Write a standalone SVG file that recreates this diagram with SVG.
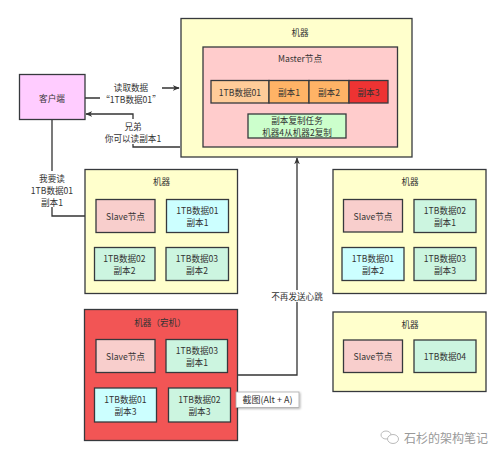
<svg xmlns="http://www.w3.org/2000/svg" width="500" height="456" viewBox="0 0 500 456">
<defs>
<style>
.b{stroke:#36393d;stroke-width:1.3}
.m{fill:#ffffcc}
.sl{fill:#f8cecc}
.cy{fill:#ccffff}
.mi{fill:#ccf5e0}
text{font-family:"Noto Sans CJK SC","Noto Sans",sans-serif;font-size:8.6px;fill:#333;text-anchor:middle;dominant-baseline:central}
.ln{fill:none;stroke:#333;stroke-width:1.3}
</style>
<marker id="ar" viewBox="0 0 10 10" refX="9" refY="5" markerWidth="7" markerHeight="7" orient="auto" markerUnits="userSpaceOnUse">
<path d="M0,1 L10,5 L0,9 L3,5 Z" fill="#333"/>
</marker>
<filter id="sh" x="-10%" y="-20%" width="130%" height="160%"><feDropShadow dx="1" dy="1" stdDeviation="1" flood-color="#000" flood-opacity="0.3"/></filter>
</defs>
<rect width="500" height="456" fill="#fff"/>

<g id="connectors">
<path class="ln" d="M85,98 H130 V88 H179" marker-end="url(#ar)"/>
<path class="ln" d="M180,147 H133 V114 H86" marker-end="url(#ar)"/>
<path class="ln" d="M52,119 V216 H95" marker-end="url(#ar)"/>
<path class="ln" d="M238,375 H297 V158" marker-end="url(#ar)"/>
<rect x="100" y="80" width="62" height="25" fill="#fff"/>
<text x="131" y="87">读取数据</text>
<text x="131" y="99">“1TB数据01”</text>
<rect x="102" y="119" width="62" height="25" fill="#fff"/>
<text x="133" y="125.5">兄弟</text>
<text x="133" y="137.5">你可以读副本1</text>
<rect x="28" y="171" width="48" height="36" fill="#fff"/>
<text x="52" y="177.5">我要读</text>
<text x="52" y="189.5">1TB数据01</text>
<text x="52" y="201.5">副本1</text>
<rect x="270" y="290" width="54" height="12" fill="#fff"/>
<text x="297" y="296">不再发送心跳</text>
</g>

<g id="client">
<rect class="b" x="19.5" y="74.5" width="65.5" height="45" fill="#ffccff"/>
<text x="52" y="98">客户端</text>
</g>

<g id="machine-master">
<rect class="b m" x="181" y="18.5" width="231" height="138.5"/>
<text x="300" y="32">机器</text>
<g id="master-node">
<rect class="b" x="203" y="47" width="194.5" height="100" fill="#ffcccc"/>
<text x="300" y="57.5">Master节点</text>
<rect class="b" x="211" y="80.5" width="58" height="22.5" fill="#ffcc99"/>
<text x="240" y="92">1TB数据01</text>
<rect class="b" x="269" y="80.5" width="40" height="22.5" fill="#ffb366"/>
<text x="289" y="92">副本1</text>
<rect class="b" x="309" y="80.5" width="40" height="22.5" fill="#ffb366"/>
<text x="329" y="92">副本2</text>
<rect class="b" x="349" y="80.5" width="39" height="22.5" fill="#ee3333"/>
<text x="368.5" y="92">副本3</text>
<rect class="b" x="248" y="114" width="98" height="24" fill="#ccffcc"/>
<text x="297" y="120">副本复制任务</text>
<text x="297" y="132">机器4从机器2复制</text>
</g>
</g>

<g id="machine-2">
<rect class="b m" x="85" y="169.5" width="152.5" height="124"/>
<text x="161.5" y="181">机器</text>
<rect class="b sl" x="96" y="199.5" width="59" height="33"/>
<text x="125.5" y="216">Slave节点</text>
<rect class="b cy" x="166.5" y="199.5" width="62" height="33"/>
<text x="197.5" y="210">1TB数据01</text>
<text x="197.5" y="222">副本1</text>
<rect class="b mi" x="94.5" y="247.5" width="60.5" height="33"/>
<text x="124.5" y="258">1TB数据02</text>
<text x="124.5" y="270">副本2</text>
<rect class="b mi" x="166" y="247.5" width="62.5" height="33"/>
<text x="197" y="258">1TB数据03</text>
<text x="197" y="270">副本2</text>
</g>

<g id="machine-3">
<rect class="b m" x="333" y="169.5" width="153" height="124"/>
<text x="410" y="181">机器</text>
<rect class="b sl" x="343.5" y="199.5" width="59" height="32.5"/>
<text x="373" y="216">Slave节点</text>
<rect class="b mi" x="414" y="199.5" width="62" height="33"/>
<text x="445" y="210">1TB数据02</text>
<text x="445" y="222">副本1</text>
<rect class="b cy" x="342" y="247.5" width="62" height="33"/>
<text x="373" y="258">1TB数据01</text>
<text x="373" y="270">副本2</text>
<rect class="b mi" x="414" y="247.5" width="62" height="33"/>
<text x="445" y="258">1TB数据03</text>
<text x="445" y="270">副本3</text>
</g>

<g id="machine-down">
<rect class="b" x="84.5" y="309.5" width="153" height="131" fill="#f25555"/>
<text x="160" y="321.5">机器（宕机）</text>
<rect class="b sl" x="96" y="339.5" width="59" height="33"/>
<text x="125.5" y="356">Slave节点</text>
<rect class="b mi" x="166" y="339.5" width="61.5" height="33"/>
<text x="197" y="350">1TB数据03</text>
<text x="197" y="362">副本1</text>
<rect class="b cy" x="94.5" y="388" width="62" height="34"/>
<text x="125.5" y="399">1TB数据01</text>
<text x="125.5" y="411">副本3</text>
<rect class="b mi" x="168.5" y="388" width="62" height="34"/>
<text x="199.5" y="399">1TB数据02</text>
<text x="199.5" y="411">副本3</text>
</g>

<g id="tooltip">
<rect x="236" y="392" width="63" height="15.5" fill="#fff" stroke="#aaa" stroke-width="0.8" filter="url(#sh)"/>
<text x="267.5" y="399.8" style="font-size:9px">截图(Alt + A)</text>
</g>

<g id="machine-4">
<rect class="b m" x="333" y="312" width="153" height="79.5"/>
<text x="410" y="324">机器</text>
<rect class="b sl" x="343.5" y="340" width="59" height="32.5"/>
<text x="373" y="356">Slave节点</text>
<rect class="b mi" x="414" y="340" width="62" height="32.5"/>
<text x="445" y="356">1TB数据04</text>
</g>

<g id="watermark">
<ellipse cx="386" cy="435" rx="5" ry="4" fill="none" stroke="#bbb" stroke-width="1"/>
<ellipse cx="393" cy="439" rx="5.5" ry="4.5" fill="#fff" stroke="#bbb" stroke-width="1"/>
<text x="446" y="437" style="font-size:12px;fill:#999">石杉的架构笔记</text>
</g>
</svg>
